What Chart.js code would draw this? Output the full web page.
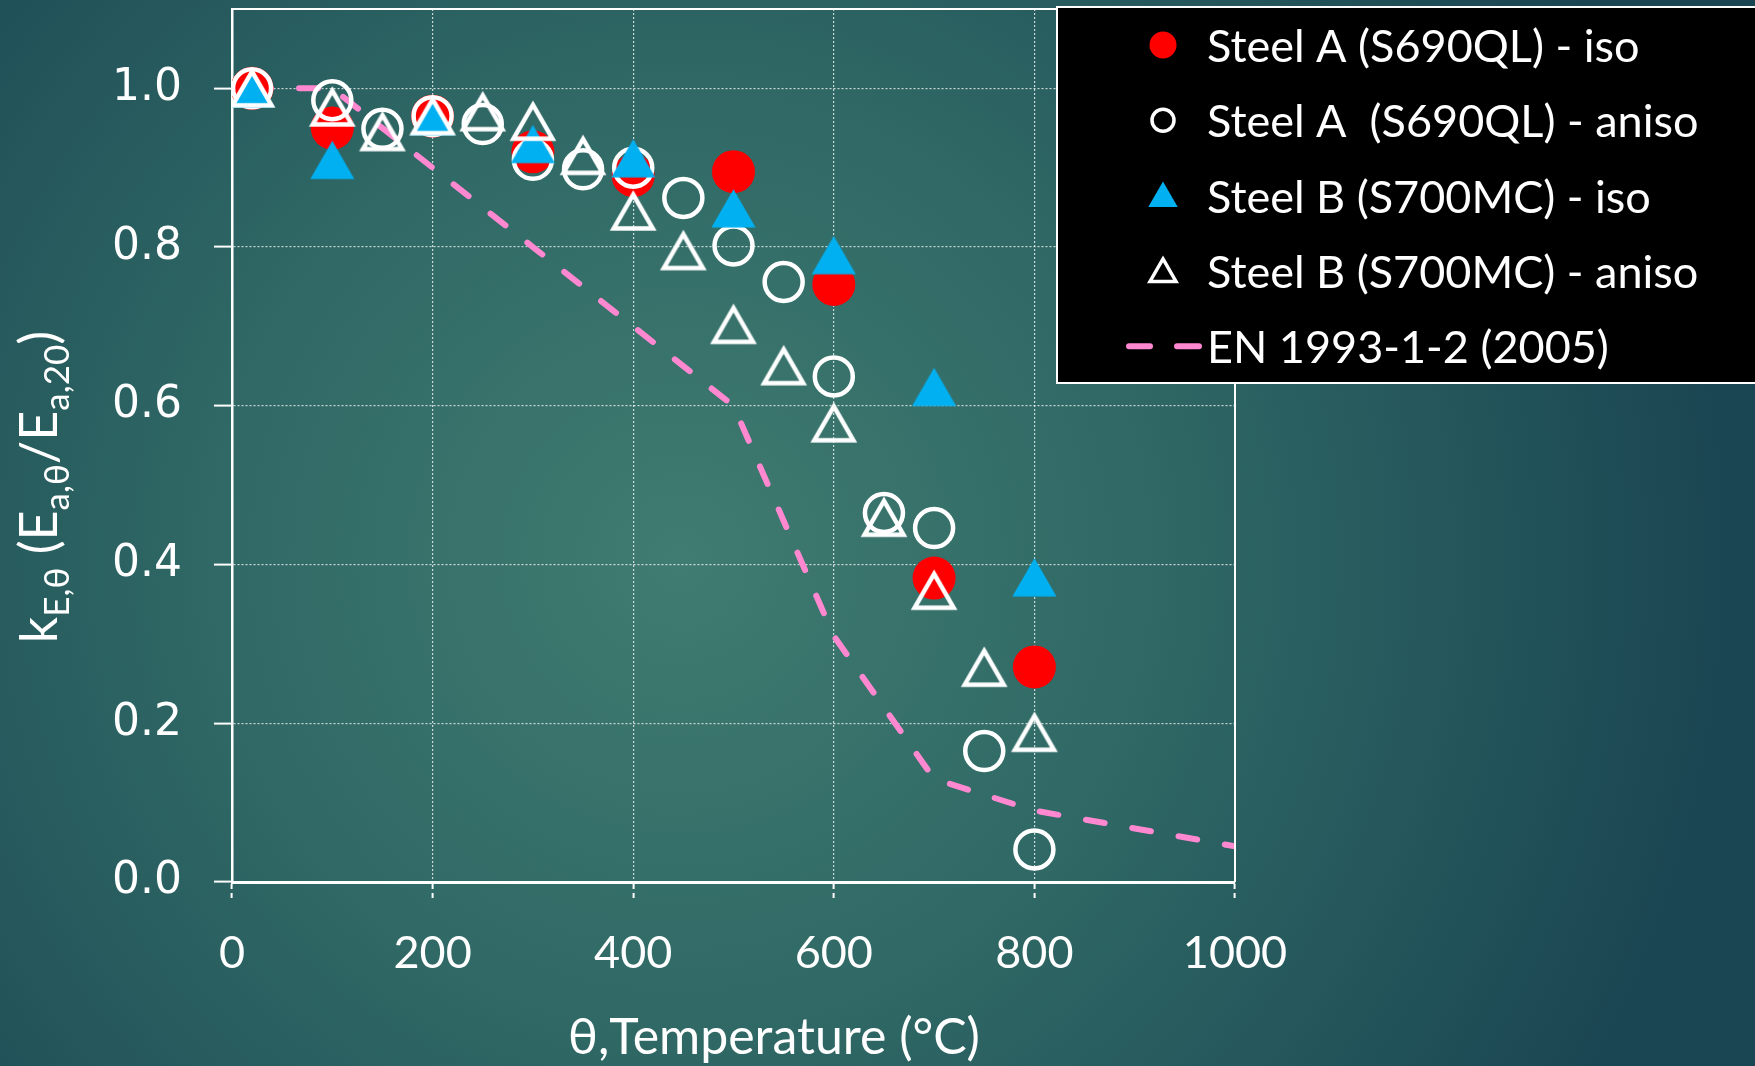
<!DOCTYPE html>
<html>
<head>
<meta charset="utf-8">
<script src="https://cdn.jsdelivr.net/npm/chart.js@4/dist/chart.umd.min.js"></script>
<style>
  html, body { margin: 0; padding: 0; background: #1a4552; }
  #chart { display: block; }
</style>
</head>
<body>
<canvas id="chart" width="1755" height="1066"></canvas>
<script>
/////////////////////////////////////
 /*              DATA               */
/////////////////////////////////////

var xTicks = [0, 200, 400, 600, 800, 1000];
var yTicks = [0, 0.2, 0.4, 0.6, 0.8, 1.0];

// Steel A (S690QL) - iso
var tempAIso  = [20, 100, 200, 300, 400, 500, 600, 700, 800];
var steelAIso = [1.0, 0.95, 0.965, 0.92, 0.89, 0.895, 0.753, 0.383, 0.271];

// Steel A (S690QL) - aniso
var tempAAniso  = [20, 100, 150, 200, 250, 300, 350, 400, 450, 500, 550, 600, 650, 700, 750, 800];
var steelAAniso = [1.0, 0.985, 0.949, 0.965, 0.955, 0.91, 0.898, 0.90, 0.862, 0.802, 0.756, 0.637, 0.465, 0.446, 0.165, 0.041];

// Steel B (S700MC) - iso
var tempBIso  = [20, 100, 200, 300, 400, 500, 600, 700, 800];
var steelBIso = [1.0, 0.91, 0.965, 0.93, 0.912, 0.849, 0.79, 0.624, 0.384];

// Steel B (S700MC) - aniso
var tempBAniso  = [20, 100, 150, 200, 250, 300, 350, 400, 450, 500, 550, 600, 650, 700, 750, 800];
var steelBAniso = [1.0, 0.976, 0.945, 0.965, 0.97, 0.958, 0.915, 0.845, 0.795, 0.702, 0.65, 0.578, 0.459, 0.367, 0.27, 0.188];

// EN 1993-1-2 (2005)
var tempEN = [20, 100, 200, 300, 400, 500, 600, 700, 800, 900, 1000];
var kEN    = [1.0, 1.0, 0.9, 0.8, 0.7, 0.6, 0.31, 0.13, 0.09, 0.0675, 0.045];

var seriesLabels = [
  "Steel A (S690QL) - iso",
  "Steel A  (S690QL) - aniso",
  "Steel B (S700MC) - iso",
  "Steel B (S700MC) - aniso",
  "EN 1993-1-2 (2005)"
];

function toPoints(xs, ys) {
  var pts = [];
  for (var i = 0; i < xs.length; i++) pts.push({ x: xs[i], y: ys[i] });
  return pts;
}

var RED = '#FF0000';
var BLUE = '#00B0F0';
var PINK = '#FF88D0';
var WHITE = '#FFFFFF';

/////////////////////////////////////
 /*   TRIANGLE MARKERS (box-centred) */
/////////////////////////////////////

// excel centres triangle markers on their bounding box, chart.js on the centroid
function triangleMarker(r, fill, stroke, lw) {
  var w = Math.ceil(2 * r + lw * 2 + 4), h = Math.ceil(1.5 * r + lw * 2 + 6);
  var c = document.createElement('canvas');
  c.width = w; c.height = h;
  var g = c.getContext('2d');
  var hw = r * Math.sin(Math.PI / 3), hh = 0.75 * r;
  g.beginPath();
  g.moveTo(w / 2, h / 2 - hh);
  g.lineTo(w / 2 + hw, h / 2 + hh);
  g.lineTo(w / 2 - hw, h / 2 + hh);
  g.closePath();
  if (fill) { g.fillStyle = fill; g.fill(); }
  if (stroke) { g.strokeStyle = stroke; g.lineWidth = lw; g.lineJoin = 'miter'; g.stroke(); }
  return c;
}

var blueTriangle = triangleMarker(25.5, BLUE, null, 0);
var openTriangle = triangleMarker(22.5, null, WHITE, 4.5);

/////////////////////////////////////
 /*            PLUGINS              */
/////////////////////////////////////

var backgroundPlugin = {
  id: 'bg',
  beforeDraw: function(chart) {
    var ctx = chart.ctx;
    var g = ctx.createRadialGradient(680, 560, 0, 680, 560, 1060);
    g.addColorStop(0, '#407c71');
    g.addColorStop(0.45, '#2f6865');
    g.addColorStop(1, '#1a4552');
    ctx.save();
    ctx.fillStyle = g;
    ctx.fillRect(0, 0, chart.width, chart.height);
    ctx.restore();
  }
};

var frameAndTextPlugin = {
  id: 'frame',
  afterDatasetsDraw: function(chart) {
    var ctx = chart.ctx;
    var a = chart.chartArea;
    ctx.save();
    // top and right border of plot area
    ctx.strokeStyle = WHITE;
    ctx.lineWidth = 2;
    ctx.beginPath();
    ctx.moveTo(a.left, a.top);
    ctx.lineTo(a.right, a.top);
    ctx.lineTo(a.right, a.bottom);
    ctx.stroke();

    // x axis title
    ctx.fillStyle = WHITE;
    ctx.font = '50px Lato';
    ctx.textAlign = 'center';
    ctx.textBaseline = 'alphabetic';
    ctx.fillText('θ,Temperature (°C)', 774, 1054);

    // y axis title with subscripts
    var parts = [
      ['k', 0], ['E,θ', 1], [' (E', 0], ['a,θ', 1], ['/E', 0], ['a,20', 1], [')', 0]
    ];
    var big = '52px Lato', small = '35px Lato';
    var total = 0;
    parts.forEach(function(p) {
      ctx.font = p[1] ? small : big;
      total += ctx.measureText(p[0]).width;
    });
    ctx.translate(57, 487);
    ctx.rotate(-Math.PI / 2);
    ctx.textAlign = 'left';
    var x = -total / 2;
    parts.forEach(function(p) {
      ctx.font = p[1] ? small : big;
      ctx.fillText(p[0], x, p[1] ? 12 : 0);
      x += ctx.measureText(p[0]).width;
    });
    ctx.restore();
  }
};

function drawTriangle(ctx, x, y, r) {
  var rad = 0;
  ctx.beginPath();
  for (var k = 0; k < 3; k++) {
    var px = x + Math.sin(rad) * r, py = y - Math.cos(rad) * r;
    if (k == 0) ctx.moveTo(px, py); else ctx.lineTo(px, py);
    rad += 2 * Math.PI / 3;
  }
  ctx.closePath();
}

var legendPlugin = {
  id: 'boxLegend',
  afterDraw: function(chart) {
    var ctx = chart.ctx;
    ctx.save();
    ctx.fillStyle = '#000000';
    ctx.fillRect(1057, 7, 720, 376);
    ctx.strokeStyle = WHITE;
    ctx.lineWidth = 2;
    ctx.strokeRect(1057, 7, 720, 376);

    var mx = 1163, tx = 1207;
    for (var i = 0; i < seriesLabels.length; i++) {
      var base = 62 + i * 75.3;
      var my = base - 17;
      if (i == 0) {
        ctx.fillStyle = RED;
        ctx.beginPath(); ctx.arc(mx, my, 13.5, 0, Math.PI * 2); ctx.fill();
      } else if (i == 1) {
        ctx.strokeStyle = WHITE; ctx.lineWidth = 3.5;
        ctx.beginPath(); ctx.arc(mx, my, 11, 0, Math.PI * 2); ctx.stroke();
      } else if (i == 2) {
        ctx.fillStyle = BLUE;
        drawTriangle(ctx, mx, my + 3, 17); ctx.fill();
      } else if (i == 3) {
        ctx.strokeStyle = WHITE; ctx.lineWidth = 3.5; ctx.lineJoin = 'miter';
        drawTriangle(ctx, mx, my + 3, 15); ctx.stroke();
      } else {
        ctx.strokeStyle = PINK; ctx.lineWidth = 6; ctx.lineCap = 'round';
        ctx.beginPath(); ctx.moveTo(1129, my); ctx.lineTo(1150, my);
        ctx.moveTo(1177, my); ctx.lineTo(1199, my); ctx.stroke();
      }
      ctx.fillStyle = WHITE;
      ctx.font = '45px Lato';
      ctx.textAlign = 'left';
      ctx.textBaseline = 'alphabetic';
      ctx.fillText(seriesLabels[i], tx, base);
    }
    ctx.restore();
  }
};

/////////////////////////////////////
 /*             CHART               */
/////////////////////////////////////

function noScalePadding(s) {
  s.paddingTop = 0; s.paddingBottom = 0;
  s.paddingLeft = 0; s.paddingRight = 0;
}

var ctx = document.getElementById('chart').getContext('2d');
var chart = new Chart(ctx, {
  type: 'scatter',
  data: {
    datasets: [{
      label: seriesLabels[0],
      data: toPoints(tempAIso, steelAIso),
      pointStyle: 'circle',
      pointRadius: 21.5,
      pointBorderWidth: 0,
      pointBackgroundColor: RED,
      pointBorderColor: RED,
      order: 4
    }, {
      label: seriesLabels[1],
      data: toPoints(tempAAniso, steelAAniso),
      pointStyle: 'circle',
      pointRadius: 19,
      pointBorderWidth: 4.5,
      pointBackgroundColor: 'rgba(0,0,0,0)',
      pointBorderColor: WHITE,
      order: 3
    }, {
      label: seriesLabels[2],
      data: toPoints(tempBIso, steelBIso),
      pointStyle: blueTriangle,
      pointRadius: 25.5,
      order: 2
    }, {
      label: seriesLabels[3],
      data: toPoints(tempBAniso, steelBAniso),
      pointStyle: openTriangle,
      pointRadius: 22.5,
      order: 1
    }, {
      type: 'line',
      label: seriesLabels[4],
      data: toPoints(tempEN, kEN),
      showLine: true,
      borderColor: PINK,
      borderWidth: 6,
      borderDash: [19, 28],
      borderCapStyle: 'round',
      pointRadius: 0,
      tension: 0,
      fill: false,
      order: 5
    }]
  },
  options: {
    responsive: false,
    animation: false,
    devicePixelRatio: 1,
    layout: { autoPadding: false, padding: { top: 9, right: 520, left: 0, bottom: 0 } },
    plugins: {
      legend: { display: false },
      tooltip: { enabled: false }
    },
    scales: {
      x: {
        type: 'linear',
        min: 0,
        max: 1000,
        afterBuildTicks: function(s) { s.ticks = xTicks.map(function(v) { return { value: v }; }); },
        afterFit: function(s) { s.height = 184; noScalePadding(s); },
        border: { display: true, color: WHITE, width: 3, dash: [2, 2] },
        grid: {
          color: 'rgba(255,255,255,0.75)',
          lineWidth: 1.2,
          drawTicks: true,
          tickLength: 18,
          tickColor: WHITE,
          tickWidth: 2,
          tickBorderDash: [5, 4]
        },
        ticks: {
          color: WHITE,
          font: { family: 'Lato', size: 45 },
          padding: 26,
          maxRotation: 0,
          autoSkip: false,
          callback: function(v) { return String(v); }
        }
      },
      y: {
        type: 'linear',
        min: 0,
        max: 1.1,
        afterBuildTicks: function(s) { s.ticks = yTicks.map(function(v) { return { value: v }; }); },
        afterFit: function(s) { s.width = 232; noScalePadding(s); },
        border: { display: true, color: WHITE, width: 2.5, dash: [2, 2] },
        grid: {
          color: 'rgba(255,255,255,0.75)',
          lineWidth: 1.2,
          drawTicks: true,
          tickLength: 18,
          tickColor: WHITE,
          tickWidth: 2,
          tickBorderDash: []
        },
        ticks: {
          color: WHITE,
          font: { family: 'DejaVu Sans', size: 44 },
          padding: 32,
          autoSkip: false,
          callback: function(v) { return Number(v).toFixed(1); }
        }
      }
    }
  },
  plugins: [backgroundPlugin, frameAndTextPlugin, legendPlugin]
});
</script>
</body>
</html>
